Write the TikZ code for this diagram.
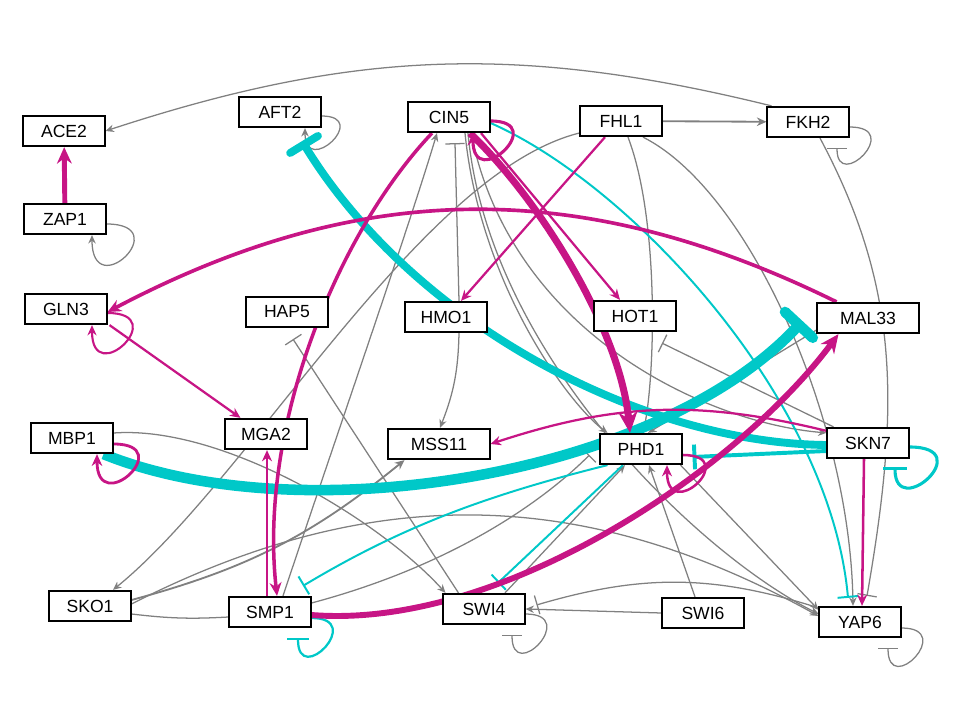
\documentclass[tikz,border=0pt]{standalone}
\usepackage{fontspec}
\setmainfont{Liberation Sans}
\usetikzlibrary{arrows.meta,calc,backgrounds}
\definecolor{edgegray}{RGB}{128,128,128}
\definecolor{mag}{RGB}{199,21,133}
\definecolor{cyn}{RGB}{0,200,200}
\begin{document}
\begin{tikzpicture}[x=0.025cm, y=-0.025cm,
	gene/.style={draw, line width=1.3pt, fill=white, minimum width=2.03cm, minimum height=0.76cm, inner sep=0pt, font=\fontsize{12.5}{14}\selectfont},
	wide/.style={minimum width=2.53cm},
	act/.style={-{Stealth[length=4pt 2.2, width=3.5pt 2]}},
	inh/.style={-{Bar[width=12pt 2]}},
	inhr/.style={-{Bar[width=12pt 2, round]}},
	grayedge/.style={draw=edgegray, line width=0.9pt},
	magedge/.style={draw=mag},
	cyanedge/.style={draw=cyn}]
	\useasboundingbox (0,0) rectangle (960,720);
	% Genes
	\node[gene] (ACE2) at (64,131) {ACE2};
	\node[gene] (ZAP1) at (65,219) {ZAP1};
	\node[gene] (AFT2) at (280,112) {AFT2};
	\node[gene] (CIN5) at (449,117) {CIN5};
	\node[gene] (FHL1) at (621,121) {FHL1};
	\node[gene] (FKH2) at (808,122) {FKH2};
	\node[gene] (GLN3) at (66,309) {GLN3};
	\node[gene] (HAP5) at (287,312) {HAP5};
	\node[gene] (HMO1) at (446,317) {HMO1};
	\node[gene] (HOT1) at (635,316) {HOT1};
	\node[gene, wide] (MAL33) at (868,318) {MAL33};
	\node[gene] (MBP1) at (72,438) {MBP1};
	\node[gene] (MGA2) at (266,434) {MGA2};
	\node[gene, wide] (MSS11) at (439,444) {MSS11};
	\node[gene] (PHD1) at (641,449) {PHD1};
	\node[gene] (SKN7) at (868,443) {SKN7};
	\node[gene] (SKO1) at (90,606) {SKO1};
	\node[gene] (SMP1) at (270,612) {SMP1};
	\node[gene] (SWI4) at (484,609) {SWI4};
	\node[gene] (SWI6) at (703,613) {SWI6};
	\node[gene] (YAP6) at (860,622) {YAP6};
	\begin{scope}[on background layer]
	% Gray edges
	\draw[grayedge, act] ($(FKH2.north west)+(5,0)$) to[bend right=16] (ACE2.east);
	\draw[grayedge, act] ($(ZAP1.east)+(0,5)$) .. controls +(70,0) and +(0,70) .. ($(ZAP1.south)+(27,0)$);
	\draw[grayedge, act] ($(AFT2.east)+(0,4)$) .. controls +(50,0) and +(0,50) .. ($(AFT2.south)+(25,0)$);
	\draw[grayedge, line width=1.3pt, act] (FHL1) -- (FKH2);
	\draw[grayedge, inh] ($(FKH2.east)+(0,5)$) .. controls +(55,0) and +(0,45) .. ($(FKH2.south)+(29,10)$);
	\draw[grayedge, inh] ($(FKH2.south)+(12,0)$) .. controls +(80,150) and +(33,-190) .. ($(YAP6.north)+(7,-10)$);
	\draw[grayedge, act] ($(FHL1.south)+(7,0)$) .. controls +(32,84) and +(12,-54) .. ($(PHD1.north)+(2,0)$);
	\draw[grayedge, act] ($(FHL1.south)+(22,0)$) .. controls +(107,54) and +(-3,-186) .. ($(YAP6.north)+(-7,0)$);
	\draw[grayedge, act] ($(FHL1.west)+(0,12)$) .. controls +(-160,40) and +(137,-111) .. ($(SKO1.north)+(23,0)$);
	\draw[grayedge, inh] ($(SKN7.north west)+(7,0)$) -- ($(HOT1.south)+(27,11)$);
	\draw[grayedge, act] ($(HMO1.south)+(13,0)$) to[bend left=10] ($(MSS11.north)+(1,0)$);
	\draw[grayedge, inh] ($(HMO1.north)+(13,0)$) -- ($(CIN5.south)+(6,10)$);
	\draw[grayedge, act] ($(MAL33.west)+(0,12)$) -- ($(PHD1.north)+(7,0)$);
	\draw[grayedge, inh] ($(SWI4.north west)+(16,0)$) -- ($(HAP5.south)+(6,11)$);
	\draw[grayedge, act] ($(MBP1.east)+(0,-5)$) .. controls +(108,-8) and +(-67,-74) .. ($(SWI4.north west)+(3,0)$);
	\draw[grayedge, inh] ($(SWI4.east)+(0,5)$) .. controls +(55,0) and +(0,50) .. ($(SWI4.south)+(28,10)$);
	\draw[grayedge, act] (SWI6.west) -- (SWI4.east);
	\draw[grayedge, inh] ($(YAP6.north west)+(0,2)$) to[bend right=17] ($(SWI4.east)+(11,-4)$);
	\draw[grayedge, act] ($(SWI6.north)+(-8,0)$) -- ($(PHD1.south)+(8,0)$);
	\draw[grayedge] ($(SKO1.east)+(0,8)$) to[bend right=5] ($(SMP1.west)+(0,5)$);
	\draw[grayedge, line width=1.3pt, act] ($(SKO1.east)+(0,-6)$) to[bend right=12] ($(MSS11.south west)+(17,0)$);
	\draw[grayedge, act] ($(SKO1.east)+(0,-2)$) to[bend left=28] ($(YAP6.west)+(0,-6)$);
	\draw[grayedge, act] ($(SMP1.north)+(13,0)$) .. controls +(50,-150) and +(-30,100) .. ($(CIN5.south)+(-12,0)$);
	\draw[grayedge, act] ($(CIN5.south)+(16,0)$) .. controls +(15,150) and +(-40,-30) .. ($(PHD1.north west)+(8,0)$);
	\draw[grayedge, act] ($(CIN5.south)+(19,0)$) .. controls +(20,220) and +(-120,-60) .. ($(YAP6.north west)+(0,8)$);
	\draw[grayedge, act] ($(CIN5.south)+(22,0)$) .. controls +(40,200) and +(-120,-10) .. ($(SKN7.north west)+(0,6)$);
	\draw[grayedge, act] ($(PHD1.south east)+(-2,0)$) -- ($(YAP6.north west)+(0,4)$);
	\draw[grayedge, act] ($(SWI4.north)+(21,0)$) -- ($(PHD1.south)+(-16,0)$);
	\draw[grayedge, inh] ($(SMP1.east)+(0,-9)$) .. controls +(150,-40) and +(-40,40) .. ($(PHD1.west)+(-10,6)$);
	\draw[grayedge, inh] ($(YAP6.east)+(0,6)$) .. controls +(55,0) and +(0,50) .. ($(YAP6.south)+(28,10)$);
	% Cyan edges
	\draw[cyanedge, line width=5.6pt, inhr] ($(SKN7.west)+(0,2)$) .. controls +(-188,-2) and +(110,180) .. ($(AFT2.south)+(22,13)$);
	\draw[cyanedge, line width=7.5pt, inhr] ($(MBP1.south east)+(-10,0)$) .. controls +(198,80) and +(-144,155) .. ($(MAL33.west)+(-14,3)$);
	\draw[cyanedge, line width=2.8pt, inh] ($(SKN7.west)+(0,8)$) -- ($(PHD1.east)+(10,8)$);
	\draw[cyanedge, line width=2.2pt, inh] ($(SKN7.east)+(0,4)$) .. controls +(70,0) and +(0,55) .. ($(SKN7.south)+(27,8)$);
	\draw[cyanedge, line width=1.4pt, inh] ($(CIN5.east)+(0,6)$) .. controls +(141,62) and +(-18,-199) .. ($(YAP6.north)+(-12,-8)$);
	\draw[cyanedge, line width=1.4pt, inh] ($(PHD1.south west)+(8,0)$) .. controls +(-120,30) and +(100,-60) .. ($(SMP1.north)+(33,-10)$);
	\draw[cyanedge, line width=1.6pt, inh] ($(SMP1.east)+(0,6)$) .. controls +(55,0) and +(0,50) .. ($(SMP1.south)+(28,10)$);
	\draw[cyanedge, line width=1.4pt, inh] ($(PHD1.south)+(-18,0)$) -- ($(SWI4.north)+(14,-10)$);
	% Magenta edges
	\draw[magedge, line width=3.5pt, act] (ZAP1) -- (ACE2);
	\draw[magedge, line width=2.6pt, act] ($(MAL33.north west)+(20,0)$) to[bend right=27] ($(GLN3.east)+(0,3)$);
	\draw[magedge, line width=1.5pt, act] ($(GLN3.east)+(0,4)$) .. controls +(65,0) and +(0,65) .. ($(GLN3.south)+(26,0)$);
	\draw[magedge, line width=1.6pt, act] ($(GLN3.south east)+(2,0)$) -- ($(MGA2.north west)+(16,0)$);
	\draw[magedge, line width=2pt, act] ($(MBP1.east)+(0,6)$) .. controls +(65,0) and +(0,65) .. ($(MBP1.south)+(25,0)$);
	\draw[magedge, line width=2.2pt, act] ($(CIN5.east)+(0,4)$) .. controls +(60,0) and +(0,60) .. ($(CIN5.south)+(24,0)$);
	\draw[magedge, line width=2.5pt, act] ($(CIN5.south)+(-17,0)$) .. controls +(-92,97) and +(-19,-173) .. ($(SMP1.north)+(7,0)$);
	\draw[magedge, line width=1.8pt, act] ($(SMP1.north)+(-3,0)$) -- ($(MGA2.south)+(1,0)$);
	\draw[magedge, line width=5pt, act] ($(CIN5.south)+(21,0)$) .. controls +(70,67) and +(-10,-104) .. ($(PHD1.north)+(-11,0)$);
	\draw[magedge, line width=1.6pt, act] ($(CIN5.south)+(32,0)$) -- ($(HOT1.north)+(-15,0)$);
	\draw[magedge, line width=1.6pt, act] ($(FHL1.south)+(-16,0)$) -- ($(HMO1.north)+(15,0)$);
	\draw[magedge, line width=1.6pt, act] ($(SKN7.north west)+(0,4)$) to[bend right=16] (MSS11.east);
	\draw[magedge, line width=1.8pt, act] ($(PHD1.east)+(0,6)$) .. controls +(60,0) and +(0,60) .. ($(PHD1.south)+(26,0)$);
	\draw[magedge, line width=1.8pt, act] ($(SKN7.south)+(-4,0)$) -- ($(YAP6.north)+(2,0)$);
	\draw[magedge, line width=4.2pt, act] ($(SMP1.east)+(0,3)$) .. controls +(189,15) and +(-102,137) .. ($(MAL33.south west)+(22,0)$);
	\end{scope}
\end{tikzpicture}
\end{document}
